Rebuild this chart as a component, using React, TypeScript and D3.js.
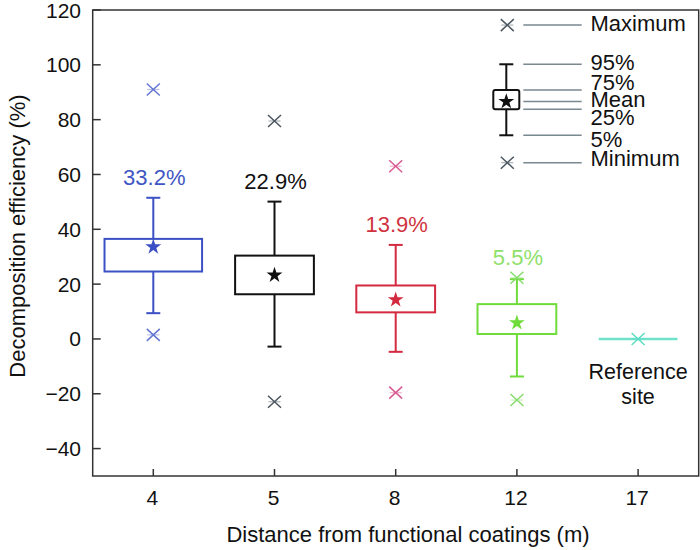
import React from 'react';
import * as d3 from 'd3';

// distances (m) on the x axis
const categories = ['4', '5', '8', '12', '17'];
const boxCategories = ['4', '5', '8', '12'];

// decomposition efficiency (%)
const maxValues = [91, 79.5, 63, 22.3];
const p95Values = [51.5, 50.1, 34.3, 21.8];
const p75Values = [36.5, 30.4, 19.5, 12.7];
const meanValues = [33.2, 22.9, 13.9, 5.5];
const p25Values = [24.6, 16.3, 9.7, 1.8];
const p5Values = [9.4, -2.8, -4.7, -13.7];
const minValues = [1.5, -22.9, -19.6, -22.3];

const referenceCategory = '17';
const referenceValue = 0;

const yTicks = [-40, -20, 0, 20, 40, 60, 80, 100, 120];

// schematic key in the upper right
const keyLabels = ['Maximum', '95%', '75%', 'Mean', '25%', '5%', 'Minimum'];
const keyValues = [114.5, 100.2, 90.8, 86.6, 83.8, 74.3, 64.3];

// styling, kept apart from the data
const boxStroke = ['#3b50c4', '#111111', '#d42a40', '#6fdc3c'];
const markerStroke = ['#6476d2', '#4b5660', '#d85a92', '#86dc6c'];
const labelFill = ['#3e56c2', '#111111', '#d0333f', '#8fdf6a'];
const referenceColor = '#70e2cc';
const keyLineColor = '#7a8890';
const font = '"Liberation Sans", Arial, Helvetica, sans-serif';

const W = 700;
const H = 550;
const plot = { left: 92.7, right: 698.7, top: 10, bottom: 476 };

const starPath = d3.symbol(d3.symbolStar, 78)() || '';

const Cross: React.FC<{ cx: number; cy: number; color: string }> = ({ cx, cy, color }) => (
  <g transform={`translate(${cx},${cy})`}>
    <path d="M-6.5,-6L6.5,6M-6.5,6L6.5,-6" stroke={color} strokeWidth={1.5} fill="none" />
    <path d="M-6,0L6,0" stroke={color} strokeWidth={1.2} opacity={0.45} />
  </g>
);

const App: React.FC = () => {
  const x = d3.scalePoint<string>().domain(categories).range([plot.left, plot.right]).padding(0.5);
  const y = d3.scaleLinear().domain([-50, 120]).range([plot.bottom, plot.top]);
  const step = x.step();

  const fmt = (v: number) => (v < 0 ? '\u2212' + Math.abs(v) : String(v));

  const keyX = 506.3;
  const keyNudge = [-2, -2, -8, -2, 8, 4, -4];

  return (
    <svg
      width={W}
      height={H}
      style={{ position: 'absolute', left: 0, top: 0, background: '#fff' }}
      fontFamily={font}
    >
      {/* frame */}
      <rect
        x={plot.left}
        y={plot.top}
        width={plot.right - plot.left}
        height={plot.bottom - plot.top}
        fill="none"
        stroke="#333"
        strokeWidth={1.5}
      />

      {/* y ticks, pointing inward */}
      {yTicks.map((t) => (
        <g key={t}>
          <line x1={plot.left} x2={plot.left + 8} y1={y(t)} y2={y(t)} stroke="#333" strokeWidth={1.5} />
          <text x={81} y={y(t)} textAnchor="end" dominantBaseline="central" fontSize={21} fill="#111">
            {fmt(t)}
          </text>
        </g>
      ))}

      {/* x ticks */}
      {categories.map((c) => (
        <g key={c}>
          <line x1={x(c)} x2={x(c)} y1={plot.bottom} y2={plot.bottom - 7} stroke="#333" strokeWidth={1.5} />
          <text x={(x(c) as number) - 1} y={plot.bottom + 29} textAnchor="middle" fontSize={21} fill="#111">
            {c}
          </text>
        </g>
      ))}

      <text x={408} y={541.5} textAnchor="middle" fontSize={22} fill="#111">
        Distance from functional coatings (m)
      </text>
      <text transform="translate(25,236) rotate(-90)" textAnchor="middle" fontSize={22} fill="#111">
        Decomposition efficiency (%)
      </text>

      {/* boxes */}
      {boxCategories.map((c, i) => {
        const cx = x(c) as number;
        const bw = step * (i === 0 ? 0.805 : 0.65);
        const col = boxStroke[i];
        return (
          <g key={c}>
            <line x1={cx} x2={cx} y1={y(p95Values[i])} y2={y(p75Values[i])} stroke={col} strokeWidth={2} />
            <line x1={cx} x2={cx} y1={y(p25Values[i])} y2={y(p5Values[i])} stroke={col} strokeWidth={2} />
            <line x1={cx - 7} x2={cx + 7} y1={y(p95Values[i])} y2={y(p95Values[i])} stroke={col} strokeWidth={2} />
            <line x1={cx - 7} x2={cx + 7} y1={y(p5Values[i])} y2={y(p5Values[i])} stroke={col} strokeWidth={2} />
            <rect
              x={cx - bw / 2}
              y={y(p75Values[i])}
              width={bw}
              height={y(p25Values[i]) - y(p75Values[i])}
              fill="none"
              stroke={col}
              strokeWidth={2}
            />
            <path d={starPath} transform={`translate(${cx},${y(meanValues[i]) - 1})`} fill={col} />
            <Cross cx={cx} cy={y(maxValues[i])} color={markerStroke[i]} />
            <Cross cx={cx} cy={y(minValues[i])} color={markerStroke[i]} />
            <text
              x={cx + 1}
              y={y(Math.max(p95Values[i], maxValues[i] < 40 ? maxValues[i] : p95Values[i])) - 20}
              textAnchor="middle"
              dominantBaseline="central"
              fontSize={22}
              fill={labelFill[i]}
            >
              {meanValues[i].toFixed(1)}%
            </text>
          </g>
        );
      })}

      {/* reference site */}
      {(() => {
        const cx = x(referenceCategory) as number;
        const bw = step * 0.65;
        return (
          <g>
            <line
              x1={cx - bw / 2}
              x2={cx + bw / 2}
              y1={y(referenceValue)}
              y2={y(referenceValue)}
              stroke={referenceColor}
              strokeWidth={2.5}
            />
            <Cross cx={cx} cy={y(referenceValue)} color="#5cdcc2" />
            <text x={cx} y={y(referenceValue) + 33} textAnchor="middle" dominantBaseline="central" fontSize={21.5} fill="#111">
              Reference
            </text>
            <text x={cx} y={y(referenceValue) + 58} textAnchor="middle" dominantBaseline="central" fontSize={21.5} fill="#111">
              site
            </text>
          </g>
        );
      })()}

      {/* key */}
      <g>
        <line x1={keyX} x2={keyX} y1={y(keyValues[1])} y2={y(keyValues[2])} stroke="#111" strokeWidth={2} />
        <line x1={keyX} x2={keyX} y1={y(keyValues[4])} y2={y(keyValues[5])} stroke="#111" strokeWidth={2} />
        <line x1={keyX - 7} x2={keyX + 7} y1={y(keyValues[1])} y2={y(keyValues[1])} stroke="#111" strokeWidth={2} />
        <line x1={keyX - 7} x2={keyX + 7} y1={y(keyValues[5])} y2={y(keyValues[5])} stroke="#111" strokeWidth={2} />
        <rect
          x={keyX - 13}
          y={y(keyValues[2])}
          width={26}
          height={y(keyValues[4]) - y(keyValues[2])}
          rx={2}
          fill="none"
          stroke="#111"
          strokeWidth={2}
        />
        <path d={starPath} transform={`translate(${keyX},${y(keyValues[3])})`} fill="#111" />
        <Cross cx={keyX + 1} cy={y(keyValues[0])} color="#4b5660" />
        <Cross cx={keyX + 1} cy={y(keyValues[6])} color="#4b5660" />
        {keyLabels.map((lab, i) => (
          <g key={lab}>
            <line x1={523.3} x2={581.7} y1={y(keyValues[i])} y2={y(keyValues[i])} stroke={keyLineColor} strokeWidth={1.5} />
            <text x={590.5} y={y(keyValues[i]) + keyNudge[i]} dominantBaseline="central" fontSize={22} fill="#111">
              {lab}
            </text>
          </g>
        ))}
      </g>
    </svg>
  );
};

export default App;
